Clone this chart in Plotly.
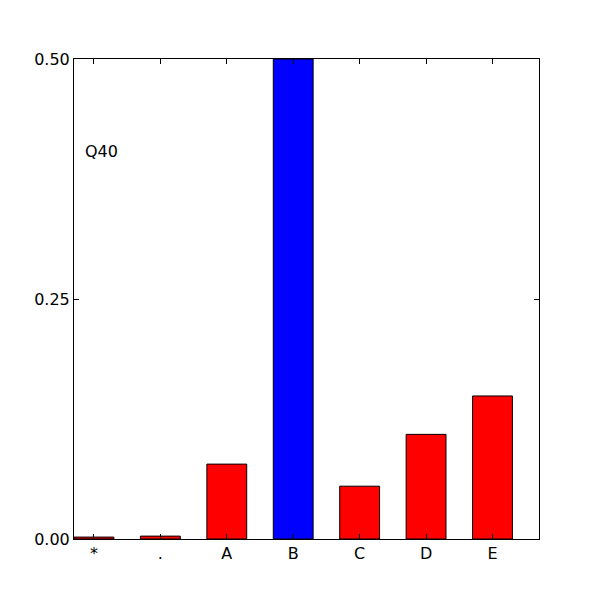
import plotly.graph_objects as go

categories = ["*", ".", "A", "B", "C", "D", "E"]
values = [0.002, 0.003, 0.078, 0.5, 0.055, 0.109, 0.149]
colors = ["red", "red", "red", "blue", "red", "red", "red"]
y_ticks = [0.0, 0.25, 0.5]
y_tick_labels = ["0.00", "0.25", "0.50"]

x_pos = list(range(len(categories)))

fig = go.Figure(go.Bar(
    x=x_pos, y=values, width=0.6,
    marker=dict(color=colors, line=dict(color="black", width=1)),
))

fig.update_layout(
    width=600, height=600,
    margin=dict(l=66, r=69, t=51, b=69),
    paper_bgcolor="white", plot_bgcolor="white",
    font=dict(family="DejaVu Sans", size=16, color="black"),
    showlegend=False,
    annotations=[dict(text="Q40", xref="paper", yref="paper", x=0.019, y=0.808,
                      xanchor="left", yanchor="middle", showarrow=False,
                      font=dict(size=16))],
)
fig.update_xaxes(range=[-0.3, 6.7], tickvals=x_pos, ticktext=categories,
                 ticks="inside", ticklen=5, tickcolor="black", showline=True,
                 linecolor="black", linewidth=1, mirror="ticks", showgrid=False,
                 zeroline=False)
fig.update_yaxes(range=[0, 0.5], tickvals=y_ticks, ticktext=y_tick_labels,
                 ticks="inside", ticklen=5, tickcolor="black", showline=True,
                 linecolor="black", linewidth=1, mirror="ticks", showgrid=False,
                 zeroline=False)

fig.write_html("out.html")
